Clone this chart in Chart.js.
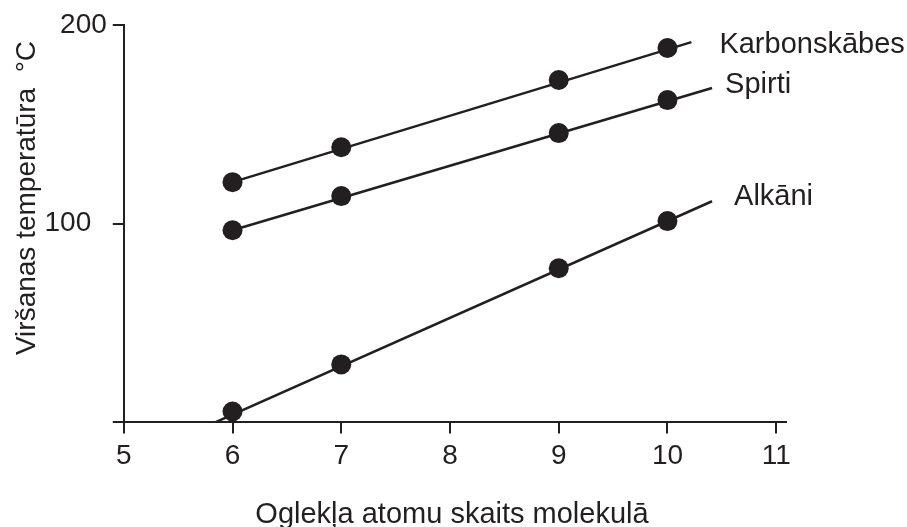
<!DOCTYPE html>
<html>
<head>
<meta charset="utf-8">
<script src="https://cdn.jsdelivr.net/npm/chart.js@4"></script>
<style>
  html, body { margin: 0; padding: 0; background: #fff; }
  #wrap { width: 907px; height: 527px; position: relative; }
</style>
</head>
<body>
<div id="wrap"><canvas id="chart"></canvas></div>
<script>
const ink = '#231f20';
const font = "'Liberation Sans', Arial, Helvetica, sans-serif";

// data
const carbonAtoms = [6, 7, 9, 10];
const karbonskabes = [120.9, 138.5, 172.3, 188.4];
const spirti = [96.7, 113.9, 145.6, 162.2];
const alkani = [5.5, 29.2, 77.6, 101.3];

// drawn straight lines (start and end, in data units)
const karbLine = [[6, 120.9], [10.22, 191.4]];
const spirtiLine = [[6, 96.7], [10.41, 168.3]];
const alkaniLine = [[5.84, 0], [10.41, 111.3]];

const seriesNames = ['Karbonskābes', 'Spirti', 'Alkāni'];
const xTicks = [5, 6, 7, 8, 9, 10, 11];
const yTicks = [0, 100, 200];
const xTitle = 'Oglekļa atomu skaits molekulā';
const yTitle = 'Viršanas temperatūra  °C';

const toPts = (xs, ys) => xs.map((x, i) => ({ x: x, y: ys[i] }));
const linePts = arr => arr.map(p => ({ x: p[0], y: p[1] }));

function lineSet(arr) {
    return {
        type: 'line',
        data: linePts(arr),
        borderColor: ink,
        borderWidth: 2.5,
        pointRadius: 0,
        fill: false,
        order: 2
    };
}
function dotSet(ys) {
    return {
        type: 'scatter',
        data: toPts(carbonAtoms, ys),
        backgroundColor: ink,
        borderWidth: 0,
        pointRadius: 10,
        order: 1
    };
}

// labels next to the line ends, and the two axis titles
const textPlugin = {
    id: 'texts',
    afterDraw(chart) {
        const c = chart.ctx;
        const xs = chart.scales.x, ys = chart.scales.y;
        const ends = [karbLine[1], spirtiLine[1], alkaniLine[1]];
        const offs = [[28, 3], [13, -3], [22, -4]];
        c.save();
        c.fillStyle = ink;
        c.font = '29px ' + font;
        c.textBaseline = 'middle';
        c.textAlign = 'left';
        ends.forEach((e, i) => {
            c.fillText(seriesNames[i], xs.getPixelForValue(e[0]) + offs[i][0], ys.getPixelForValue(e[1]) + offs[i][1]);
        });
        c.textAlign = 'center';
        c.textBaseline = 'alphabetic';
        c.fillText(xTitle, 452, 523);
        c.font = '28px ' + font;
        c.translate(27, 198);
        c.rotate(-Math.PI / 2);
        c.textBaseline = 'middle';
        c.fillText(yTitle, 0, 0);
        c.restore();
    }
};

new Chart(document.querySelector('#chart'), {
    data: {
        datasets: [
            lineSet(karbLine), lineSet(spirtiLine), lineSet(alkaniLine),
            dotSet(karbonskabes), dotSet(spirti), dotSet(alkani)
        ]
    },
    options: {
        responsive: true,
        maintainAspectRatio: false,
        animation: false,
        layout: { padding: { left: 38.5, right: 121, top: 25, bottom: 48 } },
        plugins: { legend: { display: false }, tooltip: { enabled: false } },
        scales: {
            x: {
                type: 'linear',
                min: 5,
                max: 11.09,
                afterBuildTicks: s => { s.ticks = xTicks.map(v => ({ value: v })); },
                border: { display: true, color: ink, width: 2 },
                grid: { drawOnChartArea: false, drawTicks: true, tickLength: 11, color: ink, lineWidth: 2 },
                ticks: { color: ink, font: { size: 28, family: font }, padding: 6, maxRotation: 0 }
            },
            y: {
                type: 'linear',
                min: 0,
                max: 200,
                afterBuildTicks: s => { s.ticks = yTicks.map(v => ({ value: v })); },
                border: { display: true, color: ink, width: 2 },
                grid: { drawOnChartArea: false, drawTicks: true, tickLength: 11, color: ink, lineWidth: 2 },
                // the 100 label sits further from its tick in the source
                ticks: { color: ink, font: { size: 28, family: font }, padding: 6, callback: v => v === 0 ? '' : (v === 100 ? '100  ' : v) }
            }
        }
    },
    plugins: [textPlugin]
});
</script>
</body>
</html>
